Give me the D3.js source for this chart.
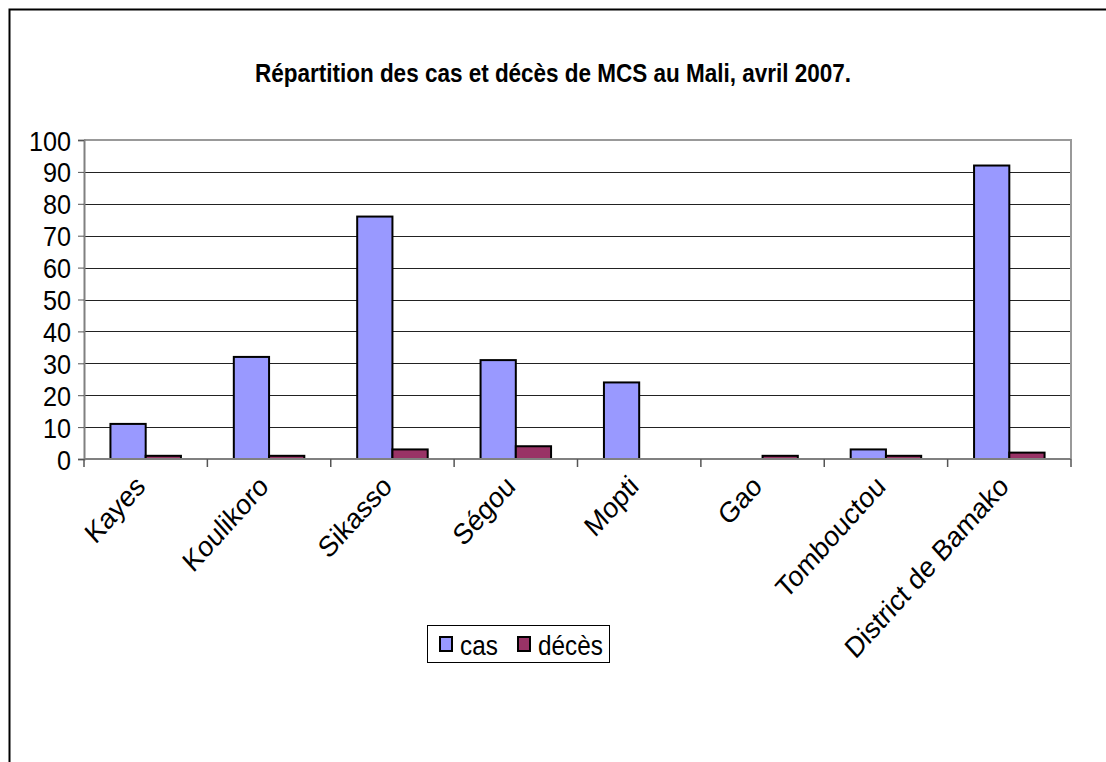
<!DOCTYPE html>
<html>
<head>
<meta charset="utf-8">
<script src="https://cdn.jsdelivr.net/npm/d3@7"></script>
<style>
    body { margin: 0; background: #fff; }
    text { font-family: Arial, "Liberation Sans", sans-serif; fill: #000; }
</style>
</head>
<body>
<div id="container"></div>
<script>
const regions = ["Kayes", "Koulikoro", "Sikasso", "Ségou", "Mopti", "Gao", "Tombouctou", "District de Bamako"];
const cas = [11, 32, 76, 31, 24, 0, 3, 92];
const deces = [1, 1, 3, 4, 0, 1, 1, 2];
const seriesNames = ["cas", "décès"];
const seriesColors = ["#9999FF", "#993366"];
const yTicks = [0, 10, 20, 30, 40, 50, 60, 70, 80, 90, 100];

window.onload = (event) => {
    const width = 1106;
    const height = 762;
    const plot = { left: 84, right: 1071, top: 140, bottom: 459 };
    const squash = 0.9;

    const svg = d3.select("#container").append("svg")
        .attr("width", width)
        .attr("height", height);

    // outer chart frame, runs off the page on the right and bottom
    svg.append("rect")
        .attr("x", 9.5).attr("y", 9.5)
        .attr("width", 1200).attr("height", 900)
        .attr("fill", "none")
        .attr("stroke", "#000")
        .attr("stroke-width", 2);

    svg.append("text")
        .attr("transform", `translate(${width / 2}, 82) scale(${squash}, 1)`)
        .attr("text-anchor", "middle")
        .style("font-size", "25px")
        .style("font-weight", "bold")
        .text("Répartition des cas et décès de MCS au Mali, avril 2007.");

    const x = d3.scaleBand().domain(regions).range([plot.left, plot.right]);
    const xs = d3.scaleBand().domain(seriesNames).range([0, x.bandwidth()]).paddingOuter(0.75);
    const y = d3.scaleLinear().domain([0, 100]).range([plot.bottom, plot.top]);

    // grid lines
    svg.append("g").selectAll("line").data(yTicks.slice(1, -1)).enter().append("line")
        .attr("x1", plot.left).attr("x2", plot.right)
        .attr("y1", d => Math.round(y(d)) + 0.5).attr("y2", d => Math.round(y(d)) + 0.5)
        .attr("stroke", "#222")
        .attr("stroke-width", 1);

    // plot border (top and right)
    svg.append("path")
        .attr("d", `M${plot.left},${plot.top} H${plot.right} V${plot.bottom}`)
        .attr("fill", "none")
        .attr("stroke", "#999")
        .attr("stroke-width", 2);

    // y axis
    const yAxis = svg.append("g")
        .attr("transform", `translate(${plot.left},0)`)
        .call(d3.axisLeft(y).tickValues(yTicks).tickSize(6).tickPadding(8));
    yAxis.select(".domain").attr("stroke", "#808080").attr("stroke-width", 2);
    yAxis.selectAll(".tick line").attr("stroke", "#555");
    yAxis.selectAll(".tick text")
        .attr("x", 0).attr("dy", null)
        .attr("transform", `translate(-13, 10) scale(${squash}, 1)`)
        .style("font-size", "28px")
        .style("font-family", "Arial, 'Liberation Sans', sans-serif");

    // bars
    const data = regions.map((r, i) => ({ region: r, values: [cas[i], deces[i]] }));
    const groups = svg.append("g").selectAll("g").data(data).enter().append("g")
        .attr("transform", d => `translate(${x(d.region)},0)`);
    groups.selectAll("rect")
        .data(d => d.values.map((v, k) => ({ name: seriesNames[k], value: v, k })))
        .enter().append("rect")
        .filter(d => d.value > 0)
        .attr("x", d => xs(d.name))
        .attr("y", d => y(d.value))
        .attr("width", xs.bandwidth())
        .attr("height", d => y(0) - y(d.value))
        .attr("fill", d => seriesColors[d.k])
        .attr("stroke", "#000")
        .attr("stroke-width", 2);

    // x axis with category ticks at band edges
    const xAxis = svg.append("g");
    xAxis.append("line")
        .attr("x1", plot.left).attr("x2", plot.right)
        .attr("y1", plot.bottom).attr("y2", plot.bottom)
        .attr("stroke", "#808080").attr("stroke-width", 2);
    const edges = regions.map(r => x(r)).concat([plot.right]);
    xAxis.selectAll(".edge").data(edges).enter().append("line")
        .attr("class", "edge")
        .attr("x1", d => d).attr("x2", d => d)
        .attr("y1", plot.bottom).attr("y2", plot.bottom + 8)
        .attr("stroke", "#555").attr("stroke-width", 1.5);
    xAxis.selectAll("text").data(regions).enter().append("text")
        .attr("transform", d => `translate(${x(d) + x.bandwidth() / 2 + 1}, 488) scale(${squash}, 1) rotate(-45)`)
        .attr("text-anchor", "end")
        .style("font-size", "29px")
        .text(d => d);

    // legend
    const legend = svg.append("g").attr("transform", "translate(427, 625)");
    legend.append("rect")
        .attr("x", 0.5).attr("y", 0.5)
        .attr("width", 182).attr("height", 37)
        .attr("fill", "#fff")
        .attr("stroke", "#000");
    const items = legend.selectAll(".item").data(seriesNames).enter().append("g")
        .attr("class", "item")
        .attr("transform", (d, i) => `translate(${i === 0 ? 13 : 91}, 0)`);
    items.append("rect")
        .attr("x", 0).attr("y", 12)
        .attr("width", 12).attr("height", 14)
        .attr("fill", (d, i) => seriesColors[i])
        .attr("stroke", "#000")
        .attr("stroke-width", 2);
    items.append("text")
        .attr("transform", `translate(20, 30) scale(${squash}, 1)`)
        .style("font-size", "27px")
        .text(d => d);
};
</script>
</body>
</html>
